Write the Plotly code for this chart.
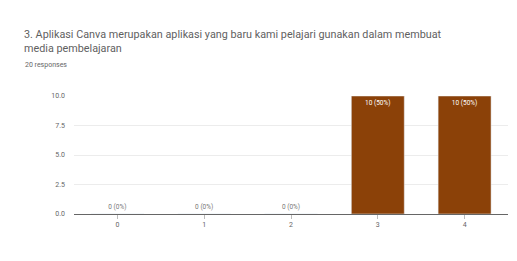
import plotly.graph_objects as go

categories = ["0", "1", "2", "3", "4"]
counts = [0, 0, 0, 10, 10]
total = 20
labels = [f"{c} ({c/total*100:.0f}%)" for c in counts]
title_line1 = "3. Aplikasi Canva merupakan aplikasi yang baru kami pelajari gunakan dalam membuat"
title_line2 = "media pembelajaran"
responses = "20 responses"
y_ticks = [0, 2.5, 5, 7.5, 10]
y_tick_text = ["0.0", "2.5", "5.0", "7.5", "10.0"]

# page body has an 8px margin, so the figure is sized to fit the window
W, H = 509, 253
ml, mr, mt, mb = 65.5, 8.5, 88, 47
pw, ph = W - ml - mr, H - mt - mb

def px(x):
    return (x - ml) / pw

def py(y):
    return (H - mb - y) / ph

fig = go.Figure()
fig.add_trace(go.Bar(
    x=categories, y=counts, text=labels,
    textposition=["outside" if c == 0 else "inside" for c in counts],
    insidetextanchor="end",
    textfont=dict(size=6.5, family="Roboto"),
    insidetextfont=dict(color="white", size=6.5),
    outsidetextfont=dict(color="#777", size=6.5),
    marker=dict(color="#8B4108"),
    cliponaxis=False,
    width=0.61,
))

fig.update_layout(
    width=W, height=H,
    margin=dict(l=ml, r=mr, t=mt, b=mb),
    paper_bgcolor="white", plot_bgcolor="white",
    font=dict(family="Roboto", color="#666"),
    showlegend=False,
    xaxis=dict(showgrid=False, showline=True, linecolor="#666", linewidth=1,
               ticks="outside", ticklen=4, tickcolor="#bbb",
               tickfont=dict(size=7, color="#666")),
    yaxis=dict(range=[0, 10], tickvals=y_ticks, ticktext=y_tick_text,
               showgrid=True, gridcolor="#ececec", zeroline=False,
               tickfont=dict(size=7, color="#666"), ticklabelstandoff=8),
    annotations=[
        dict(text=title_line1, xref="paper", yref="paper", x=px(13), y=py(26),
             xanchor="left", yanchor="middle", showarrow=False,
             font=dict(size=10.8, color="#5f5f5f")),
        dict(text=title_line2, xref="paper", yref="paper", x=px(13), y=py(41),
             xanchor="left", yanchor="middle", showarrow=False,
             font=dict(size=10.8, color="#5f5f5f")),
        dict(text=responses, xref="paper", yref="paper", x=px(14), y=py(57),
             xanchor="left", yanchor="middle", showarrow=False,
             font=dict(size=7, color="#666")),
    ],
)

fig.write_html("out.html")
